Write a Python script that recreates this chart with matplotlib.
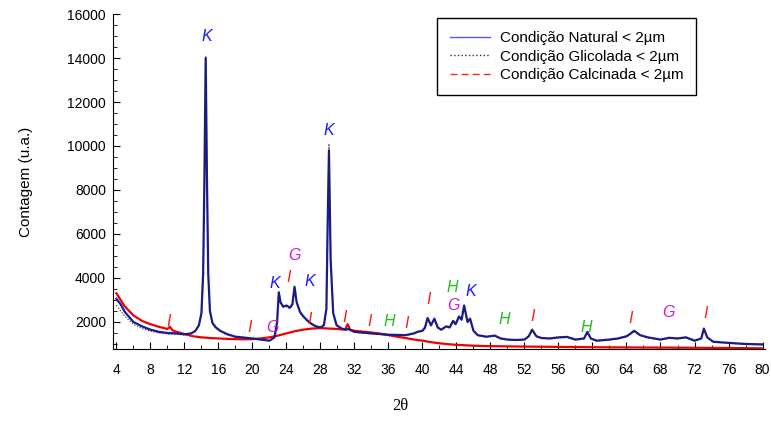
#!/usr/bin/env python3

'''
    DRX: fração < 2um nas condições natural, glicolada e calcinada.
'''
import matplotlib
matplotlib.use("Agg")
import matplotlib.pyplot as plt
from matplotlib.lines import Line2D
from matplotlib.ticker import MultipleLocator


natural_x = [4, 4.5, 5, 6, 7, 8, 9, 10, 11, 12, 12.8, 13.3, 13.7, 14.0, 14.2, 14.35, 14.5, 14.65,
             14.8, 15.0, 15.3, 15.7, 16.2, 17, 18, 20, 21, 22, 22.6, 22.9, 23.1, 23.3, 23.6, 24.0,
             24.4, 24.7, 24.95, 25.2, 25.6, 26, 26.5, 27, 27.5, 28, 28.4, 28.7, 28.85, 29.0, 29.2,
             29.5, 29.9, 30.5, 31, 31.3, 32, 34, 36, 38, 39, 39.4, 40, 40.3, 40.6, 41.0, 41.4, 41.8,
             42.2, 42.8, 43.2, 43.6, 43.9, 44.3, 44.6, 44.9, 45.3, 45.6, 46.0, 46.5, 47.5, 48.5,
             49.2, 50, 51, 52, 52.5, 52.9, 53.4, 54, 55, 56, 57, 58, 59, 59.4, 59.8, 60.5, 62, 63,
             64, 64.4, 64.9, 65.6, 66.5, 68, 69, 70, 71, 72, 72.8, 73.1, 73.5, 74.2, 76, 78, 80]
natural_y = [3050, 2800, 2450, 2000, 1800, 1650, 1550, 1500, 1480, 1440, 1480, 1600, 1850, 2400,
             4200, 8500, 14000, 8500, 4200, 2500, 1950, 1750, 1600, 1450, 1330, 1250, 1200, 1150,
             1300, 2000, 3350, 2900, 2700, 2750, 2650, 2800, 3600, 2900, 2450, 2250, 2050, 1900,
             1800, 1750, 1850, 2600, 6500, 9800, 4800, 2400, 1850, 1700, 1650, 1680, 1550, 1480,
             1420, 1400, 1480, 1550, 1600, 1750, 2180, 1850, 2150, 1750, 1650, 1800, 1750, 2050,
             1900, 2250, 2100, 2750, 2000, 2150, 1600, 1400, 1330, 1380, 1250, 1200, 1180, 1200,
             1350, 1650, 1350, 1270, 1250, 1300, 1320, 1200, 1250, 1550, 1250, 1150, 1200, 1250,
             1350, 1450, 1600, 1400, 1300, 1200, 1280, 1250, 1300, 1150, 1250, 1700, 1300, 1100,
             1050, 1000, 980]

glicolada_x = natural_x
glicolada_y = [2750, 2500, 2250, 1900, 1700, 1580, 1500, 1450, 1440, 1410, 1450, 1570, 1820, 2350,
               4100, 8600, 14100, 8400, 4100, 2450, 1900, 1720, 1570, 1420, 1300, 1230, 1190, 1140,
               1280, 1950, 3300, 2850, 2650, 2700, 2600, 2750, 3550, 2850, 2400, 2200, 2000, 1870,
               1780, 1730, 1830, 2600, 6700, 10100, 4900, 2350, 1820, 1680, 1630, 1660, 1530, 1460,
               1400, 1380, 1460, 1530, 1580, 1720, 2150, 1820, 2120, 1730, 1630, 1780, 1730, 2020,
               1880, 2220, 2080, 2720, 1980, 2120, 1580, 1380, 1310, 1360, 1230, 1180, 1160, 1180,
               1330, 1620, 1330, 1250, 1230, 1280, 1300, 1180, 1230, 1520, 1230, 1130, 1180, 1230,
               1330, 1420, 1570, 1380, 1280, 1180, 1260, 1230, 1280, 1130, 1230, 1680, 1280, 1080,
               1030, 980, 960]

calcinada_x = [4, 4.5, 5, 6, 7, 8, 9, 10, 10.3, 10.6, 11, 12, 13, 14, 15, 16, 17, 18, 19, 20, 21, 22,
               23, 24, 25, 26, 27, 28, 29, 30, 30.9, 31.2, 31.5, 32, 33, 34, 35, 36, 37, 38, 39, 40,
               41, 42, 43, 44, 46, 48, 50, 52, 55, 60, 65, 70, 75, 80]
calcinada_y = [3300, 3000, 2700, 2300, 2050, 1900, 1780, 1680, 1780, 1620, 1560, 1450, 1350, 1300,
               1270, 1250, 1230, 1220, 1210, 1220, 1250, 1300, 1380, 1480, 1580, 1650, 1700, 1720,
               1700, 1680, 1650, 1900, 1640, 1600, 1560, 1520, 1470, 1400, 1330, 1270, 1200, 1150,
               1080, 1030, 990, 960, 920, 900, 890, 880, 870, 850, 840, 830, 820, 800]

# rótulos das fases (K caulinita, I ilita, G goethita, H hematita)
label_text = ["K", "K", "K", "I", "G", "K", "G", "I", "I", "I", "I", "I", "H", "I", "I", "H", "G",
              "K", "H", "I", "H", "I", "G", "I"]
label_x = [14.6, 28.95, 22.6, 24.3, 25.0, 26.8, 22.3, 10.1, 19.7, 26.7, 30.9, 33.8, 36.1, 38.1,
           40.7, 43.5, 43.7, 45.7, 49.6, 52.9, 59.3, 64.5, 68.9, 73.3]
label_y = [15000, 10700, 3770, 4000, 5000, 3860, 1730, 2000, 1730, 2090, 2180, 2000, 2000, 1950,
           3000, 3550, 2770, 3400, 2090, 2230, 1770, 2140, 2450, 2400]
phase_colors = {"K": "#1a1aff", "I": "#ff1a1a", "G": "#cc22cc", "H": "#22bb22"}

series_labels = ["Condição Natural < 2µm", "Condição Glicolada < 2µm", "Condição Calcinada < 2µm"]


def plot_drx():
    fig = plt.figure(figsize=(7.71, 4.21), dpi=100)
    ax = fig.add_axes([0.1466, 0.171, 0.8457, 0.7957])

    ax.plot(calcinada_x, calcinada_y, color="#ee0000", lw=1.6, zorder=2)
    ax.plot(natural_x, natural_y, color="#1a1aa0", lw=1.6, zorder=3)
    ax.plot(glicolada_x, glicolada_y, color="#222222", lw=0.8, ls=":", zorder=4)

    for t, x, y in zip(label_text, label_x, label_y):
        ax.text(x, y, t, color=phase_colors[t], fontsize=11.5, style="italic",
                ha="center", va="center", family="Liberation Sans")

    ax.set_xlim(3.6, 80.3)
    ax.set_ylim(770, 16000)
    ax.xaxis.set_major_locator(MultipleLocator(4))
    ax.xaxis.set_minor_locator(MultipleLocator(2))
    ax.yaxis.set_major_locator(MultipleLocator(2000))
    ax.yaxis.set_minor_locator(MultipleLocator(500))
    ax.set_yticks(range(2000, 16001, 2000))
    ax.tick_params(which="both", direction="in", labelsize=10)
    ax.tick_params(axis="x", pad=10)
    ax.tick_params(axis="y", pad=5)
    ax.tick_params(which="major", length=5)
    ax.tick_params(which="minor", length=3)
    for lab in ax.get_xticklabels() + ax.get_yticklabels():
        lab.set_family("Liberation Sans")
    ax.spines["top"].set_visible(False)
    ax.spines["right"].set_visible(False)

    ax.set_ylabel("Contagem (u.a.)", fontsize=11, family="Liberation Sans")
    ax.yaxis.set_label_coords(-0.123, 0.5)
    ax.set_xlabel("2θ", fontsize=12, family="Liberation Serif")
    ax.xaxis.set_label_coords(0.44, -0.145)

    handles = [Line2D([], [], color="#5555ff", lw=1),
               Line2D([], [], color="#333333", lw=1, ls=":"),
               Line2D([], [], color="#ff2222", lw=1, ls=(0, (5, 3)))]
    leg = fig.legend(handles, series_labels, loc="upper left", bbox_to_anchor=(437 / 771, 1 - 18 / 421),
                     borderaxespad=0, fancybox=False, framealpha=1, edgecolor="black",
                     handlelength=2.6, handletextpad=0.65,
                     prop={"family": "Liberation Sans", "size": 11}, borderpad=0.85,
                     labelspacing=0.3)
    leg.get_frame().set_linewidth(1.0)

    fig.savefig("out.png", dpi=100)


if __name__ == "__main__":
    plot_drx()
